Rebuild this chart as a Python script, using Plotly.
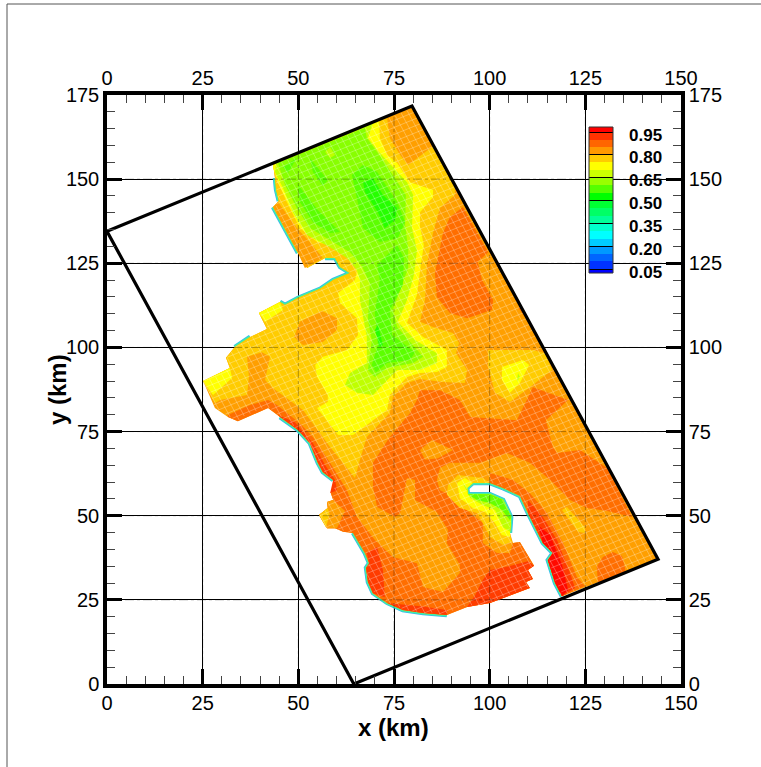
import numpy as np
import plotly.graph_objects as go

# ---------- data (km) ----------
BOX = [(0,134.5),(79.7,171.7),(144,37.1),(64.5,0),(0,134.5)]
DOMAIN = [(43.4,154.5),(79.7,171.7),(144,37.1),(118.9,26.1),(117.1,30),(115.2,36.8),(116.5,38.9),(113.9,41.9),(110,50.8),(107.9,55.9),(103.5,58.2),(100.1,59.7),(95.6,59.7),(94.1,58.2),(94.3,56.4),(100.1,56.4),(103.5,54.7),(105.6,49.6),(105.3,44.9),(106.1,41.9),(107.9,42.2),(111.6,35.1),(110,33.9),(111.3,31.2),(109.5,30.3),(110.5,28.5),(100.1,24.1),(94.1,22.9),(88.8,20.5),(82.6,21.1),(77.3,22),(73.2,24.1),(69.5,27),(68.2,30.3),(67.7,34.5),(68.5,35.9),(67.4,38.9),(64.3,44.9),(61.7,45.2),(59.6,46.3),(57.5,46.3),(55.4,50.2),(57.7,52.3),(57.5,54.1),(59.1,54.7),(58.5,56.7),(59.6,58.5),(59.1,60.6),(56.4,63),(55.1,65.7),(53,71.6),(49.9,75.5),(45.2,79.3),(42.1,82),(34.2,78.1),(31.6,79.3),(28.2,82),(25.1,90),(32.1,93.9),(31.1,96.9),(33.4,100.1),(35.5,101.6),(37.4,103.1),(41.8,105.5),(39.7,110.2),(45.2,113.5),(46.5,112.6),(49.9,114.7),(55.7,117.4),(59.1,120),(63.5,122.1),(60.9,123.9),(59.6,126.6),(57,126.6),(52.3,123.6),(49.9,128.1),(43.4,141.7),(44.9,143.5),(44.2,146.8),(43.9,150.3)]

FRINGE = [
 [(45.2,79.3),(49.9,75.5),(53,71.6),(55.1,65.7),(56.4,63),(59.1,60.6)],
 [(64.3,44.9),(67.4,38.9),(68.5,35.9),(67.7,34.5),(68.2,30.3),(69.5,27),(73.2,24.1),(77.3,22),(82.6,21.1),(88.8,20.5)],
 [(103.5,58.2),(107.9,55.9),(110,50.8),(113.9,41.9),(116.5,38.9),(115.2,36.8),(117.1,30),(118.9,26.1)],
 [(105.3,44.9),(105.6,49.6),(103.5,54.7),(100.1,56.4),(94.3,56.4),(94.1,58.2),(95.6,59.7),(100.1,59.7),(103.5,58.2)],
 [(43.4,141.7),(49.9,128.1)],
 [(44.9,143.5),(44.2,146.8),(43.9,150.3)],
 [(33.4,100.1),(35.5,101.6),(37.4,103.1)],
 [(45.2,113.5),(46.5,112.6),(49.9,114.7),(55.7,117.4),(59.1,120),(63.5,122.1),(60.9,123.9),(59.6,126.6),(57,126.6)],
]

AMBER = [(73.2,168.2),(73.9,162.2),(76.6,157.2),(78.7,154.2),(85.2,159.8),(90.9,147.4),(90.9,145.3),(87,141.4),(85.2,134),(83.6,124.5),(83.1,114.1),(81.8,107.6),(85.2,106.1),(90.4,104.3),(92,101.3),(91.2,98.3),(94.1,93.3),(93.5,89.4),(87.8,89.7),(81.8,90.6),(78.4,89.4),(74.7,85.3),(73.9,80.5),(67.9,73.4),(66.1,66.6),(64.8,61.2),(58.3,70.4),(53,78.4),(51.2,81.4),(43.4,87.9),(41.3,90.3),(42.6,97.2),(40.5,98.6),(36.6,97.2),(37.1,91.2),(36.6,85.9),(29.5,84.4),(28.2,83.5),(25.1,90),(32.1,93.9),(31.1,96.9),(33.4,100.1),(35.5,101.6),(37.4,103.1),(41.8,105.5),(39.7,110.2),(45.2,113.5),(46.5,112.6),(49.9,114.7),(55.7,117.4),(59.1,120),(63.5,122.1),(60.9,123.9),(59.6,126.6),(57,126.6),(52.3,123.6),(49.9,128.1),(43.4,141.7),(44.9,143.5),(44.2,146.8),(43.9,150.3),(43.4,154.5)]
NW_ORANGE = [(43.4,141.7),(49.9,128.1),(51.7,123.6),(56.4,126.6),(53,131.3),(49.6,135.5),(44.7,143.2)]
W_BLOB = [(50.4,107.6),(56.2,110.8),(60.1,108.7),(60.1,105.2),(56.4,101.6),(51.2,100.7),(48.9,103.1)]
YELLOW = [(43.4,154.2),(71.1,167.6),(71.3,162.2),(73.2,157.2),(75.8,154.8),(79.2,149.1),(85.2,146.8),(85.2,144.7),(81.8,140.2),(81.8,135.8),(82.8,130.4),(82,124.5),(81,115.6),(78.4,107.3),(82.6,103.1),(88.8,99.2),(88.8,94.2),(86.2,92.7),(81.8,92.4),(78.4,91.2),(73.9,85.9),(73.2,81.4),(64.3,74),(60.4,74),(54.9,82),(57.7,83.8),(57.7,85.9),(54.9,91.2),(54.4,94.8),(56.4,97.2),(62.7,99.2),(65.6,103.7),(65.3,108.7),(60.9,113.2),(60.4,116.2),(64.8,120),(65.3,122.4),(63.5,127.5),(60.9,129.5),(54.9,131.3),(50.4,135.5),(47,143.2),(44.7,149.1),(43.4,153.3)]
FLAG_A = [(25.1,90),(32.1,93.9),(32.7,90.9),(27.7,85.9)]
FLAG_B = [(39.7,110.2),(45.2,113.5),(46,111.1),(41.3,107.6)]
YGREEN = [(44.2,154.8),(69.5,166.7),(68.2,162.2),(70.6,158.7),(74.7,153.6),(78.4,149.1),(80,145.3),(79.7,135.5),(81,128.9),(80.2,121.5),(78.4,114.1),(76,107.6),(80.5,102.2),(86.2,98.3),(86.2,95.4),(81.8,93.3),(75.8,93.3),(72.6,89.4),(69.5,85.9),(65.3,86.5),(62.2,88.8),(63.5,92.4),(67.9,95.4),(67.9,103.1),(66.1,114.1),(66.1,120),(65.3,123),(62.7,126.6),(58.3,129.8),(52.3,133.4),(48.6,140.2),(46,147.4),(43.9,152.1)]
LGREEN = [(44.7,154.8),(67.4,165.2),(67.9,162.2),(72.1,155.7),(74.7,151.2),(78.1,145.3),(77.9,136.4),(78.7,129.5),(78.7,123.6),(77.3,119.1),(74.7,111.1),(75.8,106.1),(81,99.2),(82.6,97.2),(80,95.4),(73.2,93.9),(70,91.2),(68.2,93.3),(69.2,102.2),(68.2,108.1),(68.7,119.1),(66.6,124.2),(63.5,128.3),(58.3,131.9),(53,135.5),(49.6,141.4),(46.5,148.3)]
YG_DOT = [(57,158.1),(58.3,159.5),(59.6,157.2),(58.3,156.3)]
G_CENTER = [(64,151.2),(66.9,154.2),(70.6,152.1),(75.8,143.2),(77.9,137.3),(76,132.5),(71.3,131.3),(66.9,135.5),(65.3,144.4)]
G_WEST = [(49.9,148.3),(55.1,140.8),(60.9,134.3),(58.3,134),(53.8,137.3),(50.4,143.2)]
G_UPPER = [(53,156.3),(57.7,149.7),(56.4,148),(53.8,152.1)]
G_CORNER = [(46,153.6),(49.6,156.3),(47.3,151.8)]
G_LOWER = [(70.6,124.5),(75.8,130.4),(77.6,126.6),(77.3,118.5),(73.9,111.1),(74.5,103.7),(80.5,98.6),(79.2,96.3),(73.2,95.4),(70.3,92.7),(69.2,94.8),(70.8,100.7),(70,110.2),(71.3,120)]
GG_CENTER = [(66.9,149.1),(69.5,150.3),(72.1,145.3),(75.8,141.4),(75.3,137.9),(72.6,135.5),(70.8,140.2),(67.4,146.2)]
GG_LOWER = [(70.8,106.7),(72.1,100.7),(71.3,100.1),(70,105.2)]
DARK_EAST = [(93,141.7),(99.6,128.3),(96.9,125.4),(98,120),(100.9,114.1),(100.6,111.1),(94.1,108.7),(89.6,110.2),(86.2,115),(85.7,122.1),(87.8,134),(89.6,138.7)]
DARK_SLIVER = [(107.4,112),(108.4,111.4),(109.2,109)]
E_AMBER = [(99.6,99.2),(111.3,99.2),(114.5,98.3),(116.3,93.3),(110.5,88.2),(105.3,83.8),(101.4,86.5),(99.6,94.2)]
E_YELLOW = [(103.2,94.2),(108.7,96.3),(110.3,94.8),(107.9,89.4),(105.3,86.5),(103.2,90.3)]
E_YG = [(107.4,92.4),(107.9,91.2),(107.1,89.7)]
DARK_MAIN = [(81,84.4),(81.8,87.3),(87,87.3),(92.2,84.4),(94.9,79.3),(107.1,78.4),(109.7,84.4),(111.3,88.2),(120.5,84.4),(114.7,78.4),(116.5,70.4),(121,63),(117.6,68.6),(123.6,69.5),(130.7,64.2),(137.2,49.6),(130.7,51.4),(125.4,52.3),(121,54.7),(115.8,60.6),(110.5,65.7),(104.5,68.6),(97.5,65.7),(89.6,65.7),(87,64.2),(86.2,60.6),(87,57.6),(89.6,56.2),(94.9,50.8),(98.2,47.8),(98.2,41.9),(101.9,38.9),(105.3,38.9),(106.1,41.9),(107.9,42.2),(111.6,35.1),(110,33.9),(111.3,31.2),(109.5,30.3),(110.5,28.5),(100.1,24.1),(94.1,22.9),(88.8,20.5),(82.6,21.1),(77.3,22),(73.2,24.1),(69.5,27),(68.2,30.3),(67.7,34.5),(68.5,35.9),(67.4,38.9),(64.3,44.9),(61.7,45.2),(59.6,46.3),(57.5,46.3),(55.4,50.2),(57.7,52.3),(57.5,54.1),(59.1,54.7),(58.5,56.7),(59.6,58.5),(59.1,60.6),(56.4,63),(55.1,65.7),(53,71.6),(49.9,75.5),(45.2,79.3),(42.1,82),(34.2,78.1),(31.6,79.3),(31.6,79.9),(37.4,82.9),(42.1,84.4),(44.4,82.9),(50.4,77.5),(53.8,73.4),(58.3,65.7),(62.7,57.6),(65.3,49.6),(70,42.8),(74.7,37.7),(81,35.9),(82.6,28.8),(87.8,27.3),(92.2,33),(92.2,35.4),(88.8,41.9),(89.1,45.8),(86.2,51.1),(80.5,54.7),(80.5,60.6),(78.4,61.2),(76.6,50.8),(75.3,49.6),(70.6,52.6),(69.5,58.5),(69.5,65.7),(73.9,73.4),(79.2,80.5)]
INNER_LOBE = [(81.8,69.5),(84.9,72.5),(90.4,69.5),(86.5,67.1),(83.1,66.6)]
DARK_BAY = [(100.1,62.7),(106.1,60.6),(110.5,56.7),(115,50.8),(119.2,41.9),(122.8,31.8),(124.9,29.1),(118.9,26.1),(117.1,30),(115.2,36.8),(116.5,38.9),(113.9,41.9),(110,50.8),(107.9,55.9),(103.5,58.2),(100.1,59.7)]
RORANGE_BAY = [(110,54.7),(113.9,49.6),(117.6,42.8),(121,33),(122.3,28.5),(118.9,26.1),(117.1,30),(115.2,36.8),(116.5,38.9),(113.9,41.9),(110,50.8)]
RED_BAY = [(112.6,47.2),(115.8,44.3),(118.9,35.4),(120.5,27.9),(118.9,26.1),(117.1,30),(115.2,36.8),(116.5,38.9),(113.9,41.9)]
BAY_AMBER = [(89.1,59.1),(91.7,62.1),(98.2,61.2),(100.1,59.7),(95.6,59.7),(94.1,58.2),(94.3,56.4),(100.1,56.4),(103.5,54.7),(105.6,49.6),(105.3,44.9),(105.8,42.2),(103.5,41.3),(100.1,43.7),(98.2,47.8),(96.7,50.8),(92.2,52.3),(88.8,56.2)]
BAY_YELLOW = [(91.5,59.7),(93.5,61.2),(95.6,59.7),(94.1,58.2),(94.3,56.4),(100.1,56.4),(103.5,54.7),(105.6,49.6),(105.3,44.9),(105.3,43.7),(103.2,44.3),(101.4,47.8),(98.8,51.1),(95.6,52.3),(92.2,55.3)]
BAY_YG = [(93,59.7),(94.1,58.2),(94.3,56.4),(100.1,56.4),(103.5,54.7),(105.6,49.6),(105.3,45.2),(103.5,46.6),(101.4,51.7),(98.2,53.2),(94.9,55.3)]
BAY_GREEN = [(94.3,56.4),(100.1,56.4),(103.5,54.7),(105.6,49.6),(105.3,48.7),(103.2,51.7),(100.1,53.8),(96.7,54.7)]
AMBER_BAR = [(118.9,51.7),(120.2,52.6),(124.9,46.6),(124.9,44.9),(123.1,45.2)]
SE_PATCH = [(128,34.8),(129.6,37.7),(132.2,39.2),(134.6,38),(135.4,34.5),(135.4,33.3),(128.3,30)]
RO_SW = [(67.9,38.9),(70.6,40.7),(72.1,33.9),(72.6,25.8),(69.5,27),(68.2,30.3),(67.7,34.5),(68.5,35.9)]
RO_SOUTH = [(94.1,22.9),(96.2,26.4),(98.2,30.9),(100.1,33.9),(104.5,34.8),(110,36.5),(111.6,35.1),(110,33.9),(111.3,31.2),(109.5,30.3),(110.5,28.5),(100.1,24.1)]
RO_WEST = [(44.7,79.9),(49.1,77.8),(53.8,71.6),(57,65.1),(59.6,60.6),(60.1,57.6),(58.3,56.7),(59.1,60.6),(56.4,63),(55.1,65.7),(53,71.6),(49.9,75.5),(45.2,79.3)]
RO_THIN = [(73.2,24.1),(82.6,23),(88.8,22),(88.8,20.5),(82.6,21.1),(77.3,22)]
FLAG_ORANGE = [(57.5,54.1),(59.1,54.7),(62.2,51.4),(60.1,46.3),(57.5,46.3),(55.4,50.2),(57.7,52.3)]
FLAG_AMBER = [(55.4,50.2),(57.7,52.3),(58.2,50.2),(57.2,46.6)]

LEVEL_COLORS = ["#0000ff","#0033ff","#0066ff","#0099ff","#00ccff","#00ffff","#00ffcc","#00ff99","#00ff66","#00ff33","#00ff00","#55ff00","#99ff00","#ccff00","#ffff00","#ffcc00","#ff9900","#ff6600","#ff3300","#ff0000"]
LEGEND_TICKS = [0.05,0.20,0.35,0.50,0.65,0.80,0.95]
LEGEND_EDGES = [0.024,0.05,0.10,0.15,0.20,0.25,0.30,0.35,0.40,0.45,0.50,0.55,0.60,0.65,0.70,0.75,0.80,0.85,0.90,0.95,0.983]
AXIS_X = [0,25,50,75,100,125,150]
AXIS_Y = [0,25,50,75,100,125,150,175]

ORANGE, DARK, REDOR, RED = "#ff9f00", "#ff6e00", "#ff3c00", "#ff0a00"
AMB, YEL, YG, LG, G, GG = "#ffcc00", "#ffff00", "#bfff00", "#88ff00", "#5cff00", "#26ff00"

LAYERS = [
 (DOMAIN, ORANGE), (AMBER, AMB), (NW_ORANGE, ORANGE), (W_BLOB, ORANGE),
 (YELLOW, YEL), (FLAG_A, YEL), (FLAG_B, YEL), (YGREEN, YG), (LGREEN, LG), (YG_DOT, YG),
 (G_CENTER, G), (G_WEST, G), (G_UPPER, G), (G_CORNER, G), (G_LOWER, G), (GG_CENTER, GG), (GG_LOWER, GG),
 (DARK_EAST, DARK), (DARK_SLIVER, DARK), (E_AMBER, AMB), (E_YELLOW, YEL), (E_YG, YG),
 (DARK_MAIN, DARK), (INNER_LOBE, ORANGE), (DARK_BAY, DARK), (RORANGE_BAY, REDOR), (RED_BAY, RED),
 (BAY_AMBER, AMB), (BAY_YELLOW, YEL), (BAY_YG, YG), (BAY_GREEN, "#66ff00"), (AMBER_BAR, AMB), (SE_PATCH, DARK),
 (RO_SW, REDOR), (RO_SOUTH, REDOR), (RO_WEST, REDOR), (RO_THIN, REDOR), (FLAG_ORANGE, ORANGE), (FLAG_AMBER, AMB),
]

W, H = 761, 767
L, R, T, B = 107, 681, 95, 684
fig = go.Figure()

def fringe_xy():
    xs, ys = [], []
    for seg in FRINGE:
        xs += [p[0] for p in seg] + [None]
        ys += [p[1] for p in seg] + [None]
    return xs, ys

fx, fy = fringe_xy()
fig.add_trace(go.Scatter(x=fx, y=fy, mode="lines", line=dict(color="#35b8f0", width=4.5), hoverinfo="skip"))
fig.add_trace(go.Scatter(x=fx, y=fy, mode="lines", line=dict(color="#45f0a0", width=3), hoverinfo="skip"))

for pts, col in LAYERS:
    fig.add_trace(go.Scatter(x=[p[0] for p in pts]+[pts[0][0]], y=[p[1] for p in pts]+[pts[0][1]],
                             mode="lines", fill="toself", fillcolor=col, line=dict(width=0, color=col), hoverinfo="skip"))

# pale computational mesh, kept inside the flow domain
dom = np.array(DOMAIN)
def inside(px, py):
    c = np.zeros(px.shape, bool)
    j = len(dom)-1
    for i in range(len(dom)):
        xi, yi, xj, yj = dom[i,0], dom[i,1], dom[j,0], dom[j,1]
        c ^= ((yi > py) != (yj > py)) & (px < (xj-xi)*(py-yi)/(yj-yi+1e-12)+xi)
        j = i
    return c
A, Bv, Dv = np.array(BOX[0]), np.array(BOX[1]), np.array(BOX[3])
mx, my = [], []
for n, (o, d, s) in enumerate([(A, Bv-A, Dv-A), (A, Dv-A, Bv-A)]):
    for f in np.linspace(0, 1, 80 if n == 0 else 52):
        t = np.linspace(0, 1, 240)
        px = o[0]+f*s[0]+t*d[0]; py = o[1]+f*s[1]+t*d[1]
        k = inside(px, py)
        mx += [float(v) if q else None for v, q in zip(px, k)] + [None]
        my += [float(v) if q else None for v, q in zip(py, k)] + [None]
fig.add_trace(go.Scatter(x=mx, y=my, mode="lines", line=dict(color="rgba(255,255,255,0.28)", width=1), hoverinfo="skip"))

# grid lines faintly showing through the field
gx, gy = [], []
for v in AXIS_X[1:-1]:
    gx += [v, v, None]; gy += [0, 175, None]
for v in AXIS_Y[1:-1]:
    gx += [0, 150, None]; gy += [v, v, None]
fig.add_trace(go.Scatter(x=gx, y=gy, mode="lines", line=dict(color="rgba(0,0,0,0.3)", width=1, dash="dashdot"), hoverinfo="skip"))

fig.add_trace(go.Scatter(x=[p[0] for p in BOX], y=[p[1] for p in BOX], mode="lines",
                         line=dict(color="black", width=3.2), hoverinfo="skip"))
# secondary axes
fig.add_trace(go.Scatter(x=[0], y=[0], xaxis="x2", yaxis="y2", mode="markers", marker=dict(opacity=0), hoverinfo="skip"))

# legend
n = len(LEVEL_COLORS)
scale = []
for i, c in enumerate(LEVEL_COLORS):
    scale += [[i/n, c], [(i+1)/n, c]]
fig.add_trace(go.Heatmap(x=[0, 1], y=LEGEND_EDGES, z=[[i] for i in range(n)], zmin=-0.5, zmax=n-0.5,
                         colorscale=scale, showscale=False, xaxis="x3", yaxis="y3", hoverinfo="skip"))

FONT = "Liberation Sans, Arial, sans-serif"
tick = dict(family=FONT, size=20, color="black")
def ax(**kw):
    base = dict(showline=True, linewidth=3.5, linecolor="black", ticks="inside", ticklen=15, tickwidth=3, tickcolor="black",
                tickfont=tick, zeroline=False, automargin=False,
                minor=dict(dtick=5, ticks="inside", ticklen=8, tickwidth=1.3, tickcolor="#444", showgrid=False))
    base.update(kw)
    return base
xdom = [L/W, R/W]; ydom = [(H-B)/H, (H-T)/H]
notes = [dict(text="<b>x (km)</b>", xref="paper", yref="paper", x=393/W, y=(H-727)/H, xanchor="center", yanchor="middle", showarrow=False,
              font=dict(family=FONT, size=24, color="black")),
         dict(text="<b>y (km)</b>", xref="paper", yref="paper", x=57/W, y=(H-389)/H, xanchor="center", yanchor="middle", showarrow=False, textangle=-90,
              font=dict(family=FONT, size=24, color="black"))]
for v in LEGEND_TICKS:
    notes.append(dict(text="<b>%.2f</b>" % v, xref="paper", yref="y3", x=627/W, y=v, xanchor="left", yanchor="middle",
                      yshift=-3, showarrow=False, font=dict(family=FONT, size=17, color="black")))
fig.update_layout(
    width=W, height=H, autosize=False, margin=dict(l=0, r=0, t=0, b=0, autoexpand=False),
    paper_bgcolor="white", plot_bgcolor="white", showlegend=False, annotations=notes,
    xaxis=ax(domain=xdom, range=[0,150], tickvals=AXIS_X, showgrid=True, gridcolor="black", gridwidth=1, anchor="y", ticklabelstandoff=-2),
    yaxis=ax(domain=ydom, range=[0,175], tickvals=AXIS_Y, showgrid=True, gridcolor="black", gridwidth=1, anchor="x"),
    xaxis2=ax(domain=xdom, range=[0,150], tickvals=AXIS_X, side="top", overlaying="x", anchor="y", showgrid=False, ticklabelstandoff=-2),
    yaxis2=ax(domain=ydom, range=[0,175], tickvals=AXIS_Y, side="right", overlaying="y", anchor="x", showgrid=False),
    xaxis3=dict(domain=[589/W, 613/W], range=[0,1], visible=False, anchor="y3", fixedrange=True),
    yaxis3=dict(domain=[(H-273)/H, (H-127)/H], range=[0.024,0.983], anchor="x3", side="right", tickvals=LEGEND_TICKS,
                showticklabels=False, ticks="inside", ticklen=24, tickwidth=1, tickcolor="black",
                showgrid=False, zeroline=False, showline=False, automargin=False),
    shapes=[
        dict(type="line", xref="paper", yref="paper", x0=7/W, x1=7/W, y0=0, y1=(H-4)/H, line=dict(color="#555", width=1)),
        dict(type="line", xref="paper", yref="paper", x0=7/W, x1=1, y0=(H-4)/H, y1=(H-4)/H, line=dict(color="#555", width=1)),
        dict(type="rect", xref="paper", yref="paper", x0=589/W, x1=613/W, y0=(H-273)/H, y1=(H-127)/H, line=dict(color="#333", width=1)),
    ],
)
fig.write_html("out.html", config={"displayModeBar": False}, post_script="document.body.style.margin='0';")
